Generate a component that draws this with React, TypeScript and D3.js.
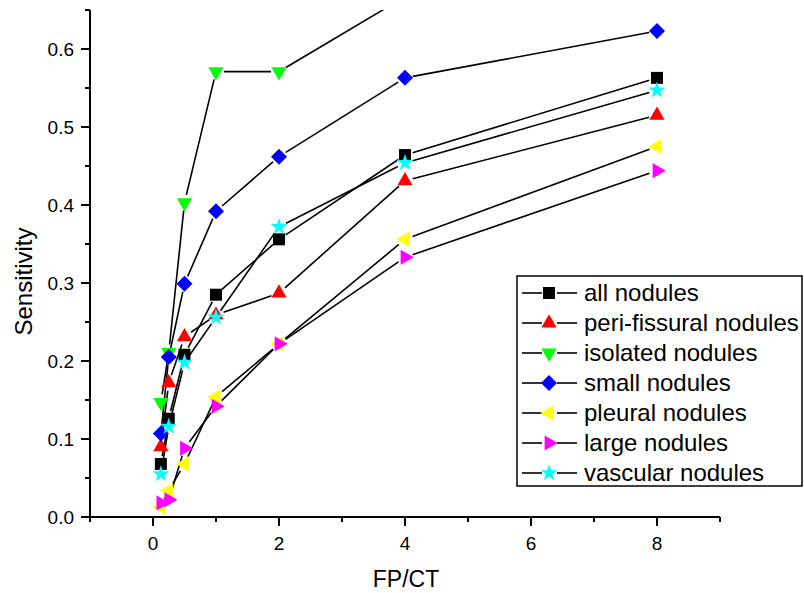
import * as d3 from "d3";

const W = 804;
const H = 593;
const MARGIN = { top: 10, right: 84, bottom: 76, left: 90 };

const FP_PER_CT = [0.125, 0.25, 0.5, 1, 2, 4, 8];

const allNodules = [0.068, 0.126, 0.208, 0.285, 0.356, 0.464, 0.563];
const periFissural = [0.09, 0.172, 0.231, 0.259, 0.287, 0.431, 0.515];
const isolated = [0.147, 0.211, 0.403, 0.571, 0.571, 0.667, 0.714];
const small = [0.107, 0.205, 0.299, 0.392, 0.462, 0.563, 0.623];
const pleural = [0.013, 0.034, 0.068, 0.154, 0.222, 0.356, 0.475];
const large = [0.018, 0.022, 0.088, 0.142, 0.222, 0.333, 0.444];
const vascular = [0.055, 0.116, 0.198, 0.256, 0.372, 0.454, 0.547];

const SERIES_NAMES = [
  "all nodules",
  "peri-fissural nodules",
  "isolated nodules",
  "small nodules",
  "pleural nodules",
  "large nodules",
  "vascular nodules",
];
const SERIES_VALUES = [allNodules, periFissural, isolated, small, pleural, large, vascular];
const SERIES_COLORS = ["#000000", "#ff0000", "#00ff00", "#0000ff", "#ffff00", "#ff00ff", "#00ffff"];
const SERIES_SHAPES = ["square", "up", "down", "diamond", "left", "right", "star"];

const X_MAJOR = [0, 2, 4, 6, 8];
const X_MINOR = [-1, 1, 3, 5, 7, 9];
const Y_MAJOR = [0, 0.1, 0.2, 0.3, 0.4, 0.5, 0.6];
const Y_MINOR = [0.05, 0.15, 0.25, 0.35, 0.45, 0.55, 0.65];

const FONT = "Arial, 'Liberation Sans', sans-serif";
const GAP = 8;

function symbolPath(shape: string) {
  if (shape === "square") return { d: d3.symbol(d3.symbolSquare, 144)() ?? "", rot: 0 };
  if (shape === "diamond") return { d: d3.symbol(d3.symbolSquare, 128)() ?? "", rot: 45 };
  if (shape === "star") return { d: d3.symbol(d3.symbolStar, 90)() ?? "", rot: 0 };
  const tri = d3.symbol(d3.symbolTriangle, 100)() ?? "";
  const rot = shape === "up" ? 0 : shape === "down" ? 180 : shape === "left" ? -90 : 90;
  return { d: tri, rot };
}

function Marker({ shape, color, x, y }: { shape: string; color: string; x: number; y: number }) {
  const { d, rot } = symbolPath(shape);
  return <path d={d} fill={color} transform={`translate(${x},${y}) rotate(${rot})`} />;
}

export default function App() {
  const x = d3.scaleLinear().domain([-1, 9]).range([MARGIN.left, W - MARGIN.right]);
  const y = d3.scaleLinear().domain([0, 0.65]).range([H - MARGIN.bottom, MARGIN.top]);
  const x0 = x.range()[0];
  const y0 = y.range()[0];

  // Origin-style lines: each segment stops short of the symbols
  const segments = (values: number[]) => {
    const pts = values.map((v, i) => [x(FP_PER_CT[i]), y(v)]);
    const out: string[] = [];
    for (let i = 0; i < pts.length - 1; i++) {
      const [ax, ay] = pts[i];
      const [bx, by] = pts[i + 1];
      const len = Math.hypot(bx - ax, by - ay);
      if (len <= GAP * 2) continue;
      const ux = (bx - ax) / len;
      const uy = (by - ay) / len;
      out.push(`M${ax + ux * GAP},${ay + uy * GAP}L${bx - ux * GAP},${by - uy * GAP}`);
    }
    return out.join("");
  };

  const legendX = 517;
  const legendY = 276;
  const legendRow = 30;

  return (
    <svg
      width={W}
      height={H}
      style={{ position: "absolute", left: 0, top: 0, background: "#fff" }}
      fontFamily={FONT}
    >
      <defs>
        <clipPath id="plotClip">
          <rect x={x0} y={MARGIN.top} width={x(9) - x0} height={y0 - MARGIN.top} />
        </clipPath>
      </defs>

      <g clipPath="url(#plotClip)">
        {SERIES_VALUES.map((vals, si) => (
          <path key={`l${si}`} d={segments(vals)} fill="none" stroke="#000" strokeWidth={1.6} />
        ))}
        {SERIES_VALUES.map((vals, si) =>
          vals.map((v, i) => (
            <Marker
              key={`m${si}-${i}`}
              shape={SERIES_SHAPES[si]}
              color={SERIES_COLORS[si]}
              x={x(FP_PER_CT[i])}
              y={y(v)}
            />
          ))
        )}
      </g>

      <g stroke="#000" strokeWidth={2}>
        <line x1={x0} x2={x0} y1={MARGIN.top} y2={y0 + 1} />
        <line x1={x0 - 1} x2={x(9)} y1={y0} y2={y0} />
        {X_MAJOR.map((t) => (
          <line key={`xM${t}`} x1={x(t)} x2={x(t)} y1={y0} y2={y0 + 9} />
        ))}
        {X_MINOR.map((t) => (
          <line key={`xm${t}`} x1={x(t)} x2={x(t)} y1={y0} y2={y0 + 5} />
        ))}
        {Y_MAJOR.map((t) => (
          <line key={`yM${t}`} x1={x0} x2={x0 - 9} y1={y(t)} y2={y(t)} />
        ))}
        {Y_MINOR.map((t) => (
          <line key={`ym${t}`} x1={x0} x2={x0 - 5} y1={y(t)} y2={y(t)} />
        ))}
      </g>
      {X_MAJOR.map((t) => (
        <text key={`xt${t}`} x={x(t)} y={y0 + 33} fontSize={19} textAnchor="middle">
          {t}
        </text>
      ))}
      {Y_MAJOR.map((t) => (
        <text key={`yt${t}`} x={x0 - 16} y={y(t)} dy="0.35em" fontSize={19} textAnchor="end">
          {t.toFixed(1)}
        </text>
      ))}
      <text x={(x0 + x(9)) / 2 + 1} y={587} fontSize={23} textAnchor="middle">
        FP/CT
      </text>
      <text
        transform={`translate(32,${(MARGIN.top + y0) / 2 + 18}) rotate(-90)`}
        fontSize={24}
        textAnchor="middle"
      >
        Sensitivity
      </text>

      <rect
        x={legendX}
        y={legendY}
        width={285}
        height={210}
        fill="#fff"
        stroke="#000"
        strokeWidth={1.5}
      />
      {SERIES_NAMES.map((name, si) => {
        const cy = legendY + 17 + si * legendRow;
        return (
          <g key={`lg${si}`}>
            <line x1={legendX + 5} x2={legendX + 25} y1={cy} y2={cy} stroke="#000" strokeWidth={1.6} />
            <line x1={legendX + 40} x2={legendX + 60} y1={cy} y2={cy} stroke="#000" strokeWidth={1.6} />
            <Marker shape={SERIES_SHAPES[si]} color={SERIES_COLORS[si]} x={legendX + 32} y={cy} />
            <text x={legendX + 67} y={cy} dy="0.35em" fontSize={24}>
              {name}
            </text>
          </g>
        );
      })}
    </svg>
  );
}
